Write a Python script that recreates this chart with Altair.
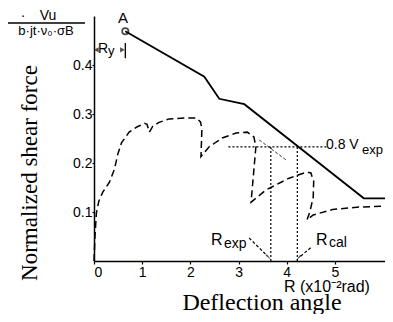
import altair as alt
import pandas as pd

# Calculated skeleton curve (solid)
solid_x = [0.65, 2.29, 2.60, 3.12, 5.60, 6.04]
solid_y = [0.469, 0.376, 0.331, 0.320, 0.128, 0.128]

# Experimental envelope (dashed)
dash_x = [0.00, 0.02, 0.05, 0.10, 0.18, 0.32, 0.42, 0.50, 0.57, 0.73, 0.90, 1.05, 1.10, 1.15,
          1.22, 1.35, 1.56, 1.90, 2.12, 2.21, 2.24, 2.22, 2.39, 2.66, 2.95, 3.18, 3.32, 3.36,
          3.26, 3.57, 4.05, 4.40, 4.50, 4.56, 4.55, 4.48, 4.42, 4.55, 4.95, 5.50, 5.98]
dash_y = [0.000, 0.050, 0.098, 0.122, 0.140, 0.161, 0.186, 0.220, 0.241, 0.263, 0.274, 0.281, 0.279, 0.263,
          0.275, 0.283, 0.290, 0.292, 0.292, 0.284, 0.270, 0.213, 0.233, 0.251, 0.261, 0.263, 0.253, 0.233,
          0.120, 0.145, 0.169, 0.181, 0.180, 0.163, 0.130, 0.100, 0.084, 0.094, 0.105, 0.110, 0.112]

# Short guide (thin dashed) after second peak
guide_x = [3.43, 3.99]
guide_y = [0.247, 0.206]

v08 = 0.233           # 0.8 Vexp level
h_x = [2.79, 4.83]    # extent of 0.8 Vexp dotted line
r_marks = [3.67, 4.22]  # R_exp, R_cal
point_A = (0.65, 0.469)

x_ticks = [0, 1, 2, 3, 4, 5]
y_ticks = [0.1, 0.2, 0.3, 0.4]

xs = alt.Scale(domain=[0, 6.04], nice=False)
ys = alt.Scale(domain=[0, 0.5], nice=False)

X = lambda f: alt.X(f, type="quantitative", scale=xs,
                    axis=alt.Axis(values=x_ticks, title=None, grid=False, format="d",
                                  tickSize=3, labelPadding=1))
Y = lambda f: alt.Y(f, type="quantitative", scale=ys,
                    axis=alt.Axis(values=y_ticks, title=None, grid=False, format=".1f",
                                  tickSize=2, labelPadding=0))

solid = alt.Chart(pd.DataFrame({"x": solid_x, "y": solid_y})).mark_line(
    color="black", strokeWidth=1.8).encode(x=X("x"), y=Y("y"))

dash_df = pd.DataFrame({"x": dash_x, "y": dash_y, "i": list(range(len(dash_x)))})
dashed = alt.Chart(dash_df).mark_line(
    color="black", strokeWidth=1.5, strokeDash=[7, 4]).encode(
    x=X("x"), y=Y("y"), order="i:Q")

guide = alt.Chart(pd.DataFrame({"x": guide_x, "y": guide_y})).mark_line(
    color="#333", strokeWidth=1, strokeDash=[3, 2]).encode(x=X("x"), y=Y("y"))

hline = alt.Chart(pd.DataFrame({"x": h_x, "y": [v08, v08]})).mark_line(
    color="black", strokeWidth=1.3, strokeDash=[2, 2]).encode(x=X("x"), y=Y("y"))

vlines = alt.Chart(pd.DataFrame({"x": r_marks, "y0": [0, 0], "y1": [v08, v08]})).mark_rule(
    color="black", strokeWidth=1.2, strokeDash=[2, 2]).encode(
    x=X("x"), y=Y("y0"), y2="y1")

ptA = alt.Chart(pd.DataFrame({"x": [point_A[0]], "y": [point_A[1]]})).mark_point(
    shape="circle", filled=False, size=40, strokeWidth=1.7, color="black").encode(
    x=X("x"), y=Y("y"))

ry_bar = alt.Chart(pd.DataFrame({"x": [0.65], "y0": [0.414], "y1": [0.445]})).mark_rule(
    color="black", strokeWidth=1.3).encode(x=X("x"), y=Y("y0"), y2="y1")

ry_heads = alt.Chart(pd.DataFrame({"x": [0.05, 0.59], "y": [0.431, 0.431],
                                   "s": ["triangle-left", "triangle-right"]})).mark_point(
    filled=True, size=28, color="black").encode(
    x=X("x"), y=Y("y"), shape=alt.Shape("s:N", scale=None, legend=None))

arr_df = pd.DataFrame({"x": [3.22, 3.58, 4.52, 4.29], "y": [0.047, 0.012, 0.029, 0.010],
                       "g": ["e", "e", "c", "c"]})
arrows = alt.Chart(arr_df).mark_line(color="black", strokeWidth=1.2, strokeDash=[3, 2]).encode(
    x=X("x"), y=Y("y"), detail="g:N")
heads = alt.Chart(pd.DataFrame({"x": [3.61, 4.26], "y": [0.009, 0.008], "a": [135, 225]})).mark_point(
    shape="wedge", filled=True, size=70, color="black").encode(
    x=X("x"), y=Y("y"), angle=alt.Angle("a:Q", scale=None))


def label(txt, px, py, size, font="Liberation Sans", align="left", angle=0, baseline="alphabetic"):
    return alt.Chart(pd.DataFrame({"t": [txt]})).mark_text(
        align=align, baseline=baseline, fontSize=size, font=font, angle=angle, color="black"
    ).encode(x=alt.value(px), y=alt.value(py), text="t:N")


frac = alt.Chart(pd.DataFrame({"a": [0]})).mark_rule(color="black", strokeWidth=1.3).encode(
    x=alt.value(-86), x2=alt.value(-9), y=alt.value(7))

texts = [
    label("A", 29, 7, 15, align="center"),
    label("R", 4, 37, 14),
    label("y", 14, 39, 13),
    label("·", -71, 0, 14, align="center", baseline="middle"),
    label("Vu", -46, 4, 14, align="center"),
    label("b·jt·ν₀·σB", -48, 19, 13, align="center"),
    label("Normalized shear force", -64, 157, 23, font="Liberation Serif", align="center",
          angle=270, baseline="middle"),
    label("Deflection angle", 168, 294, 24, font="Liberation Serif", align="center"),
    label("R (x10⁻²rad)", 190, 276, 16),
    label("0.8 V", 232, 133, 14),
    label("exp", 268, 138, 13),
    label("R", 117, 229, 16),
    label("exp", 130, 232, 14),
    label("R", 222, 229, 16),
    label("cal", 235, 231, 14),
]

chart = alt.layer(solid, dashed, guide, hline, vlines, ptA, ry_bar, ry_heads, arrows, heads,
                  frac, *texts).properties(
    width=291, height=245,
    autosize=alt.AutoSizeParams(type="none"),
    padding={"left": 86, "top": 8, "right": 0, "bottom": 53},
).configure_view(stroke=None).configure_axis(
    domainColor="black", domainWidth=1.5, tickColor="black", tickWidth=1.2,
    labelColor="black", labelFont="Liberation Sans", labelFontSize=14,
)

chart.save("out.html", embed_options={"renderer": "svg", "actions": False})
